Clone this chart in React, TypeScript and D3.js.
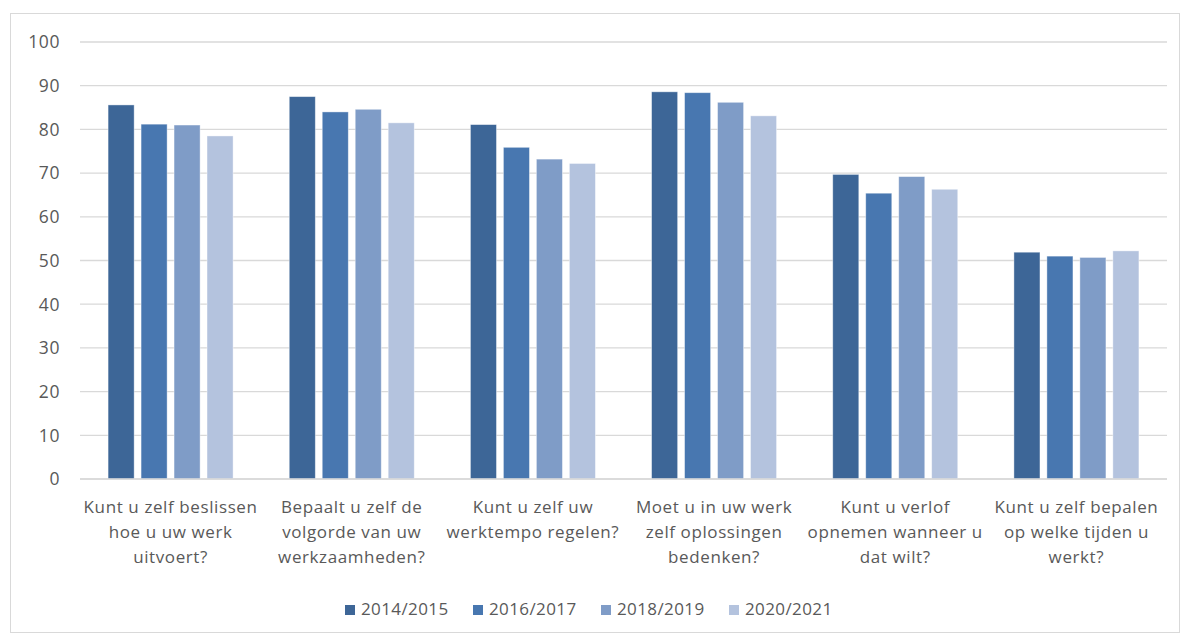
import React from "react";
import * as d3 from "d3";

const categories = [
  "Kunt u zelf beslissen\nhoe u uw werk\nuitvoert?",
  "Bepaalt u zelf de\nvolgorde van uw\nwerkzaamheden?",
  "Kunt u zelf uw\nwerktempo regelen?",
  "Moet u in uw werk\nzelf oplossingen\nbedenken?",
  "Kunt u verlof\nopnemen wanneer u\ndat wilt?",
  "Kunt u zelf bepalen\nop welke tijden u\nwerkt?",
];
const seriesNames = ["2014/2015", "2016/2017", "2018/2019", "2020/2021"];
const s2014 = [85.6, 87.5, 81.1, 88.6, 69.7, 51.9];
const s2016 = [81.2, 84.0, 75.9, 88.4, 65.4, 51.0];
const s2018 = [81.0, 84.6, 73.2, 86.2, 69.2, 50.7];
const s2020 = [78.5, 81.5, 72.2, 83.1, 66.3, 52.2];
const seriesValues = [s2014, s2016, s2018, s2020];
const yTicks = [0, 10, 20, 30, 40, 50, 60, 70, 80, 90, 100];
const colors = ["#3D6697", "#4877B0", "#7F9CC7", "#B4C3DE"];

const W = 1189;
const H = 637;
const plot = { left: 80, right: 1167, top: 42, bottom: 479 };
const font = "'Open Sans', 'Noto Sans', sans-serif";
const textColor = "#595959";

export default function App() {
  const x0 = d3
    .scaleBand<number>()
    .domain(categories.map((_, i) => i))
    .range([plot.left, plot.right]);
  const groupW = 125;
  const x1 = d3
    .scaleBand<number>()
    .domain(seriesNames.map((_, i) => i))
    .range([0, groupW])
    .paddingInner(0.21);
  const y = d3.scaleLinear().domain([0, 100]).range([plot.bottom, plot.top]);

  const legendX = [345, 473, 601, 729];

  return (
    <svg
      width={W}
      height={H}
      style={{ position: "absolute", left: 0, top: 0, background: "#fff" }}
    >
      <rect x={10.5} y={13.5} width={1169} height={619} fill="#fff" stroke="#d9d9d9" />
      {yTicks.map((t) => (
        <g key={t}>
          <line
            x1={plot.left}
            x2={plot.right}
            y1={y(t)}
            y2={y(t)}
            stroke="#d9d9d9"
            strokeWidth={1.3}
          />
          <text
            x={60}
            y={y(t)}
            dy="0.36em"
            textAnchor="end"
            fontFamily={font}
            fontSize={17.5}
            letterSpacing={0.6}
            fill={textColor}
          >
            {t}
          </text>
        </g>
      ))}
      {categories.map((c, ci) => {
        const gx = x0(ci)! + (x0.bandwidth() - groupW) / 2;
        const cx = x0(ci)! + x0.bandwidth() / 2;
        return (
          <g key={ci}>
            {seriesValues.map((vals, si) => (
              <rect
                key={si}
                x={gx + x1(si)!}
                y={y(vals[ci])}
                width={x1.bandwidth()}
                height={y(0) - y(vals[ci])}
                fill={colors[si]}
                stroke="#ffffff"
                strokeOpacity={0.5}
                strokeWidth={0.8}
              />
            ))}
            <text
              x={cx}
              y={513}
              textAnchor="middle"
              fontFamily={font}
              fontSize={17}
              letterSpacing={0.6}
              fill={textColor}
            >
              {c.split("\n").map((line, li) => (
                <tspan key={li} x={cx} dy={li === 0 ? 0 : 25}>
                  {line}
                </tspan>
              ))}
            </text>
          </g>
        );
      })}
      <line
        x1={plot.left}
        x2={plot.right}
        y1={y(0)}
        y2={y(0)}
        stroke="#d9d9d9"
        strokeWidth={1.3}
      />
      {seriesNames.map((s, si) => (
        <g key={s}>
          <rect x={legendX[si]} y={605} width={10} height={10} fill={colors[si]} />
          <text
            x={legendX[si] + 16}
            y={615}
            fontFamily={font}
            fontSize={17}
            letterSpacing={0.4}
            fill={textColor}
          >
            {s}
          </text>
        </g>
      ))}
    </svg>
  );
}
